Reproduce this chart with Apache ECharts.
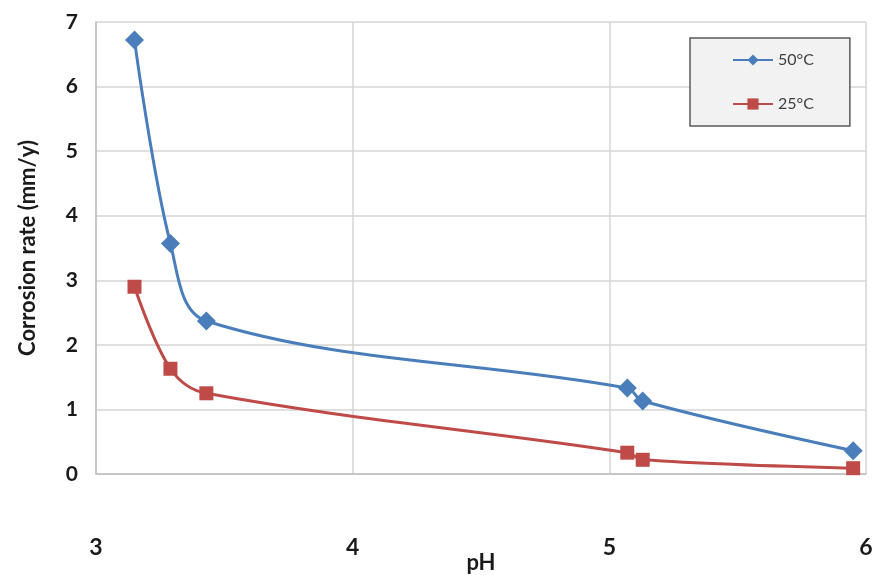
<!DOCTYPE html>
<html>
<head>
<meta charset="utf-8">
<script src="https://cdn.jsdelivr.net/npm/echarts@6/dist/echarts.min.js"></script>
<style>html,body{margin:0;padding:0;background:#fff;}#c{width:878px;height:577px;}</style>
</head>
<body>
<div id="c"></div>
<script>
const ph = [3.15, 3.29, 3.43, 5.07, 5.13, 5.95];
const rate50 = [6.72, 3.57, 2.37, 1.33, 1.13, 0.36];
const rate25 = [2.90, 1.63, 1.25, 0.33, 0.22, 0.09];
const seriesNames = ['50°C', '25°C'];
const xTicks = [3, 4, 5, 6];
const yTicks = [0, 1, 2, 3, 4, 5, 6, 7];

const pairs = (xs, ys) => xs.map((x, i) => [x, ys[i]]);
const font = 'Lato, "Open Sans", sans-serif';
const chart = echarts.init(document.getElementById('c'), null, {renderer: 'canvas'});
chart.setOption({
  animation: false,
  backgroundColor: '#fff',
  grid: {left: 96, right: 12, top: 22, bottom: 103, outerBoundsMode: 'none', containLabel: false},
  legend: {
    orient: 'vertical', left: 690, top: 38,
    backgroundColor: '#f2f2f2', borderColor: '#595959', borderWidth: 1.5,
    padding: [14, 36, 14, 42], itemGap: 28, itemWidth: 40, itemHeight: 14,
    textStyle: {fontFamily: font, fontSize: 16, color: '#404040'},
    data: seriesNames
  },
  xAxis: {
    type: 'value', min: xTicks[0], max: xTicks[xTicks.length - 1], interval: 1,
    name: 'pH', nameLocation: 'middle', nameGap: 78, nameMoveOverlap: false,
    nameTextStyle: {fontFamily: font, fontSize: 22, fontWeight: 'bold', color: '#1a1a1a'},
    axisLine: {show: true, lineStyle: {color: '#bfbfbf', width: 1.5}},
    axisTick: {show: false},
    axisLabel: {margin: 62, fontFamily: font, fontSize: 23, fontWeight: 'bold', color: '#1a1a1a'},
    splitLine: {show: true, lineStyle: {color: '#d4d4d4', width: 1.5}}
  },
  yAxis: {
    type: 'value', min: yTicks[0], max: yTicks[yTicks.length - 1], interval: 1,
    name: 'Corrosion rate (mm/y)', nameLocation: 'middle', nameGap: 57, nameRotate: 90, nameMoveOverlap: false,
    nameTextStyle: {fontFamily: font, fontSize: 22, fontWeight: 'bold', color: '#1a1a1a'},
    axisLine: {show: true, lineStyle: {color: '#bfbfbf', width: 1.5}},
    axisTick: {show: false},
    axisLabel: {margin: 18, fontFamily: font, fontSize: 21, fontWeight: 'bold', color: '#1a1a1a'},
    splitLine: {show: true, lineStyle: {color: '#d4d4d4', width: 1.5}}
  },
  series: [
    {
      name: seriesNames[0], type: 'line', data: pairs(ph, rate50), smooth: 0.35,
      symbol: 'diamond', symbolSize: 19,
      lineStyle: {color: '#4a7ebb', width: 3}, itemStyle: {color: '#4a7ebb'}
    },
    {
      name: seriesNames[1], type: 'line', data: pairs(ph, rate25), smooth: 0.35,
      symbol: 'rect', symbolSize: 14,
      lineStyle: {color: '#be4b48', width: 3}, itemStyle: {color: '#be4b48'}
    }
  ]
});
</script>
</body>
</html>
